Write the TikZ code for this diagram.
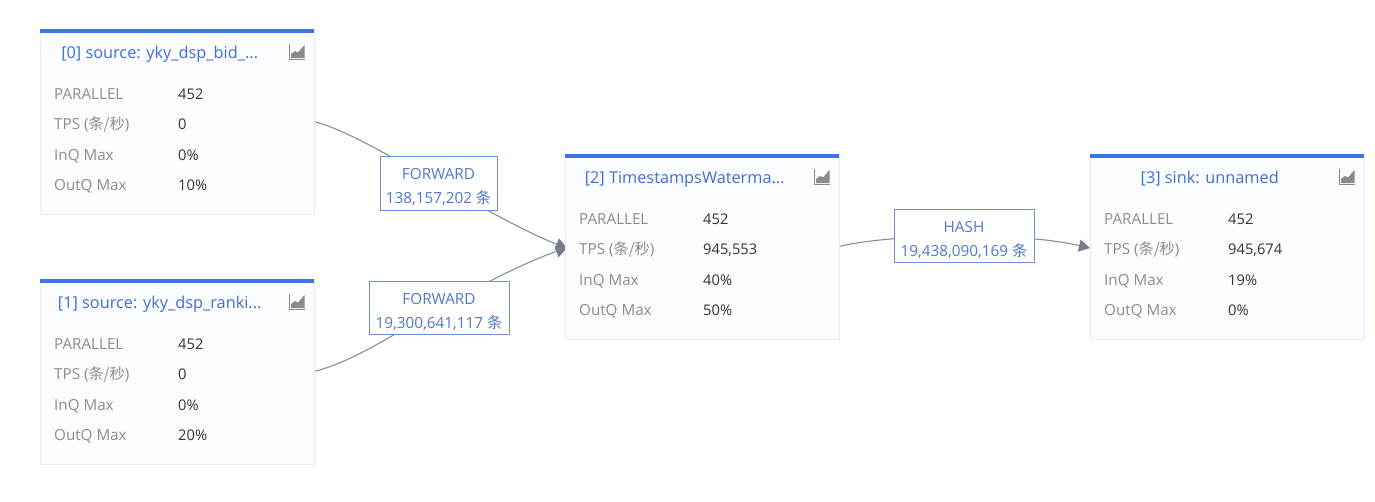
\documentclass[tikz,border=0pt]{standalone}
\usepackage{fontspec}
\setmainfont{Open Sans}
\newfontfamily\cjk{Noto Sans CJK SC}
\usetikzlibrary{arrows.meta,backgrounds,calc}
\definecolor{cardfill}{HTML}{FBFCFF}
\definecolor{cardline}{HTML}{E9ECF1}
\definecolor{barblue}{HTML}{3D74E6}
\definecolor{titleblue}{HTML}{3F6FD6}
\definecolor{labelblue}{HTML}{4F78CC}
\definecolor{labelline}{HTML}{6C90D8}
\definecolor{keygray}{HTML}{8C8C8C}
\definecolor{valgray}{HTML}{333333}
\definecolor{edgegray}{HTML}{8A8D99}
\definecolor{tipgray}{HTML}{767B8E}
\definecolor{icongray}{HTML}{8A8A8A}
\tikzset{
  x=1pt,y=-1pt,
  cardbox/.style={draw=cardline,fill=cardfill,line width=0.8pt,minimum width=274pt,minimum height=185pt,anchor=north west,inner sep=0pt,outer sep=0pt},
  cardbar/.style={fill=barblue,minimum width=274pt,minimum height=4pt,anchor=north west,inner sep=0pt,outer sep=0pt},
  cardtitle/.style={text=titleblue,font=\fontsize{16.3}{18}\selectfont,inner sep=0pt,anchor=base},
  keytext/.style={text=keygray,font=\fontsize{15.2}{16}\selectfont,anchor=base west,inner sep=0pt},
  valtext/.style={text=valgray,font=\fontsize{14.7}{16}\selectfont,anchor=base west,inner sep=0pt},
  edgelabel/.style={draw=labelline,fill=white,line width=0.9pt,text=labelblue,font=\fontsize{15.3}{24}\selectfont,align=center,inner sep=0pt,outer sep=0pt,minimum height=53.5pt},
  edgeline/.style={draw=edgegray,line width=1.1pt},
  edgearrow/.style={edgeline,-{Triangle[length=11pt,width=12pt,color=tipgray]}},
  iconshape/.style={fill=icongray,draw=none},
}
\newcommand{\cardnode}[8]{%
  \node[cardbox] (#1) at (#2,#3) {};
  \node[cardbar] (#1bar) at (#2,#3) {};
  \node[cardtitle] (#1title) at ($(#2,#3)+(119.7,29.3)$) {#4};
  \node[keytext] (#1k1) at ($(#2,#3)+(14,70.3)$) {PARALLEL};
  \node[valtext] (#1v1) at ($(#2,#3)+(138,70.3)$) {#5};
  \node[keytext] (#1k2) at ($(#2,#3)+(14,100.3)$) {TPS ({\cjk 条/秒})};
  \node[valtext] (#1v2) at ($(#2,#3)+(138,100.3)$) {#6};
  \node[keytext] (#1k3) at ($(#2,#3)+(14,131.3)$) {InQ Max};
  \node[valtext] (#1v3) at ($(#2,#3)+(138,131.3)$) {#7};
  \node[keytext] (#1k4) at ($(#2,#3)+(14,161.3)$) {OutQ Max};
  \node[valtext] (#1v4) at ($(#2,#3)+(138,161.3)$) {#8};
  \begin{scope}[shift={(#2,#3)}]
    \draw[icongray,line width=0.9pt] (249.5,15) -- (249.5,30) -- (265,30);
    \fill[iconshape] (251,29) -- (251,25) -- (255,22) -- (258,23.5) -- (264.5,16) -- (264.5,29) -- cycle;
  \end{scope}
}
\begin{document}
\begin{tikzpicture}
\useasboundingbox (0,0) rectangle (1375,501);
\cardnode{c0}{40}{29}{[0] source: yky\_dsp\_bid\_...}{452}{0}{0\%}{10\%}
\cardnode{c1}{40}{279}{[1] source: yky\_dsp\_ranki...}{452}{0}{0\%}{20\%}
\cardnode{c2}{565}{154}{[2] TimestampsWaterma...}{452}{945,553}{40\%}{50\%}
\cardnode{c3}{1090}{154}{[3] sink: unnamed}{452}{945,674}{19\%}{0\%}
\coordinate (in2) at ($(c2.west)+(2,1.5)$);
\coordinate (in3) at ($(c3.west)+(0,1.5)$);
\node[edgelabel,minimum width=117pt] (e0) at (438.5,183.5) {\rule{0pt}{18pt}FORWARD\\138,157,202 {\cjk 条}};
\node[edgelabel,minimum width=140pt] (e1) at (439,308) {\rule{0pt}{18pt}FORWARD\\19,300,641,117 {\cjk 条}};
\node[edgelabel,minimum width=140pt] (e2) at (964,236) {\rule{0pt}{18pt}HASH\\19,438,090,169 {\cjk 条}};
\begin{scope}[on background layer]
\fill[white] (0,0) rectangle (1375,501);
\draw[edgeline] (c0.east) .. controls (352,132) and (395,160) .. (e0.center);
\draw[edgearrow] (e0.center) .. controls (480,206) and (525,232) .. (in2);
\draw[edgeline] (c1.east) .. controls (352,362) and (395,334) .. (e1.center);
\draw[edgearrow] (e1.center) .. controls (480,286) and (525,262) .. (in2);
\draw[edgeline] (c2.east) .. controls (865,240) and (915,236) .. (e2.center);
\draw[edgearrow] (e2.center) .. controls (1010,236) and (1050,239) .. (in3);
\end{scope}
\end{tikzpicture}
\end{document}
